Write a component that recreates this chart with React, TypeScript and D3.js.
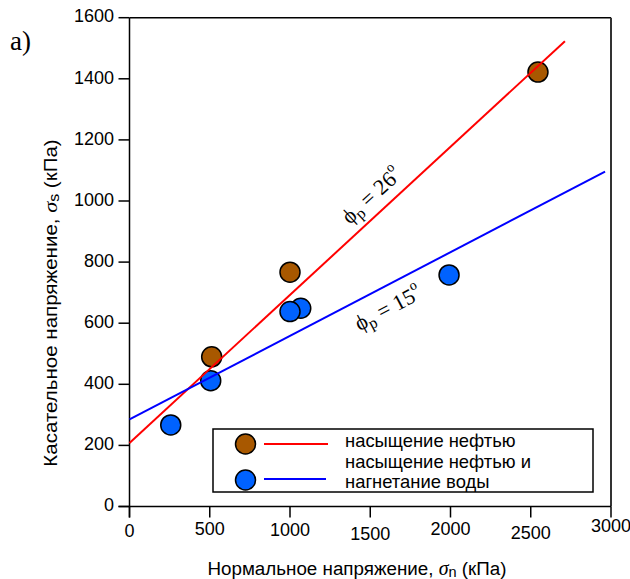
import React from "react";
import * as d3 from "d3";

const xTicks = [0, 500, 1000, 1500, 2000, 2500, 3000];
const xTickLabelDy = [26, 24, 25, 29, 24, 28, 21];
const yTicks = [0, 200, 400, 600, 800, 1000, 1200, 1400, 1600];

const oilX = [512, 1000, 2545];
const oilY = [490, 767, 1422];
const waterX = [257, 506, 1067, 1000, 1991];
const waterY = [267, 412, 649, 638, 758];

const oilFitX = [0, 2713];
const oilFitY = [208, 1523];
const waterFitX = [0, 2963];
const waterFitY = [285, 1096];

const legendLabels = ["насыщение нефтью", "насыщение нефтью и", "нагнетание воды"];

const SANS = "'Liberation Sans', Arial, sans-serif";
const SERIF = "'Liberation Serif', 'Times New Roman', serif";
const BROWN = "#A85800";
const BLUE_M = "#0062FF";

export default function App() {
  const x = d3.scaleLinear().domain([0, 3000]).range([129.5, 611]);
  const y = d3.scaleLinear().domain([0, 1600]).range([506.5, 17.7]);
  const line = d3
    .line<[number, number]>()
    .x((d) => x(d[0]))
    .y((d) => y(d[1]));
  const oilLine = line(oilFitX.map((v, i) => [v, oilFitY[i]]) as [number, number][]);
  const waterLine = line(waterFitX.map((v, i) => [v, waterFitY[i]]) as [number, number][]);

  const x0 = x(0), x1 = x(3000), y0 = y(0), y1 = y(1600);

  return (
    <svg
      width={630}
      height={579}
      style={{ position: "absolute", left: 0, top: 0, background: "#fff" }}
    >
      <rect x={0} y={0} width={630} height={579} fill="#fff" />
      {/* panel label */}
      <text x={10} y={50} fontFamily={SERIF} fontSize={27} fill="#000">a)</text>

      {/* frame */}
      <line x1={x0} y1={y1} x2={x1} y2={y1} stroke="#000" strokeWidth={1.5} />
      <line x1={x1} y1={y1} x2={x1} y2={y0} stroke="#333" strokeWidth={2} />
      {/* axes */}
      <line x1={x0 - 11} y1={y0} x2={x1} y2={y0} stroke="#000" strokeWidth={1.5} />
      <line x1={x0} y1={y1} x2={x0} y2={y0 + 11} stroke="#000" strokeWidth={1.5} />

      {xTicks.map((t, i) => (
        <g key={"xt" + t}>
          <line x1={x(t)} x2={x(t)} y1={y0} y2={y0 + 11} stroke="#000" strokeWidth={1.5} />
          <text
            x={x(t)}
            y={y0 + xTickLabelDy[i]}
            textAnchor="middle"
            dominantBaseline="middle"
            fontFamily={SANS}
            fontSize={18}
            fill="#000"
          >
            {t}
          </text>
        </g>
      ))}
      {yTicks.map((t) => (
        <g key={"yt" + t}>
          <line x1={x0 - 11} x2={x0} y1={y(t)} y2={y(t)} stroke="#000" strokeWidth={1.5} />
          <text
            x={114}
            y={y(t)}
            textAnchor="end"
            dominantBaseline="middle"
            fontFamily={SANS}
            fontSize={18}
            fill="#000"
          >
            {t}
          </text>
        </g>
      ))}

      {/* axis titles */}
      <text x={357} y={570} textAnchor="middle" dominantBaseline="middle" fontFamily={SANS} fontSize={18.8} fill="#000">
        Нормальное напряжение,{" "}
        <tspan fontFamily={SERIF} fontStyle="italic" fontSize={20}>σ</tspan>
        <tspan fontSize={14.5} dy={3}>n</tspan>
        <tspan dy={-3}> (кПа)</tspan>
      </text>
      <text
        transform={`translate(52,303) rotate(-90) scale(1.14,1)`}
        textAnchor="middle"
        dominantBaseline="middle"
        fontFamily={SANS}
        fontSize={18}
        fill="#000"
      >
        Касательное напряжение,{" "}
        <tspan fontFamily={SERIF} fontStyle="italic" fontSize={19.5}>σ</tspan>
        <tspan fontSize={14} dy={3}>s</tspan>
        <tspan dy={-3}> (кПа)</tspan>
      </text>

      {/* markers */}
      {waterX.map((v, i) => (
        <circle key={"w" + i} cx={x(v)} cy={y(waterY[i])} r={10} fill={BLUE_M} stroke="#000" strokeWidth={1.5} />
      ))}
      {oilX.map((v, i) => (
        <circle key={"o" + i} cx={x(v)} cy={y(oilY[i])} r={10} fill={BROWN} stroke="#000" strokeWidth={1.5} />
      ))}

      {/* fit lines */}
      <path d={oilLine || ""} fill="none" stroke="#FF0000" strokeWidth={2} />
      <path d={waterLine || ""} fill="none" stroke="#0000FF" strokeWidth={2} />

      {/* annotations */}
      <text
        transform={`translate(373,197) rotate(-42.5)`}
        textAnchor="middle"
        dominantBaseline="middle"
        fontFamily={SERIF}
        fontSize={22}
        fill="#000"
      >
        ϕ<tspan fontSize={16} dy={5}>p</tspan>
        <tspan dy={-5}> = 26</tspan>
        <tspan fontSize={14} dy={-9}>o</tspan>
      </text>
      <text
        transform={`translate(389,310) rotate(-28)`}
        textAnchor="middle"
        dominantBaseline="middle"
        fontFamily={SERIF}
        fontSize={22}
        fill="#000"
      >
        ϕ<tspan fontSize={16} dy={5}>p</tspan>
        <tspan dy={-5}> = 15</tspan>
        <tspan fontSize={14} dy={-9}>o</tspan>
      </text>

      {/* legend */}
      <rect x={213} y={429} width={380} height={63} fill="#fff" stroke="#000" strokeWidth={1.5} />
      <circle cx={245.5} cy={444} r={10} fill={BROWN} stroke="#000" strokeWidth={1.5} />
      <line x1={264} x2={328} y1={444} y2={444} stroke="#FF0000" strokeWidth={2} />
      <circle cx={245.5} cy={480} r={10} fill={BLUE_M} stroke="#000" strokeWidth={1.5} />
      <line x1={264} x2={326} y1={479} y2={479} stroke="#0000FF" strokeWidth={2} />
      <text x={345} y={442} dominantBaseline="middle" fontFamily={SANS} fontSize={18.4} fill="#000">{legendLabels[0]}</text>
      <text x={345} y={463} dominantBaseline="middle" fontFamily={SANS} fontSize={18.4} fill="#000">{legendLabels[1]}</text>
      <text x={345} y={483} dominantBaseline="middle" fontFamily={SANS} fontSize={18.4} fill="#000">{legendLabels[2]}</text>
    </svg>
  );
}
